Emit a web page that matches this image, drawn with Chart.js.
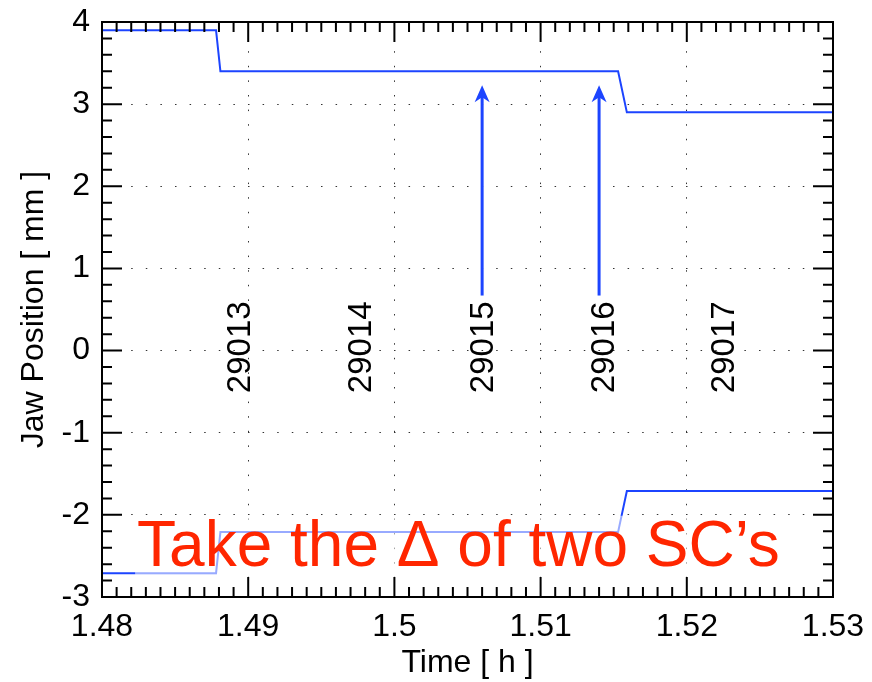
<!DOCTYPE html>
<html lang="en">
<head>
    <meta charset="UTF-8">
    <title>Jaw Position</title>
    <script src="https://cdn.jsdelivr.net/npm/chart.js@4.4.1/dist/chart.umd.min.js"></script>
    <style>
        body { margin: 0; background: #fff; }
        #wrap { width: 872px; height: 682px; }
    </style>
</head>
<body>
    <div id="wrap">
        <canvas id="myChart"></canvas>
    </div>
<script>
    // jaw settings vs time
    const stepTime = [1.48, 1.4878, 1.4881, 1.5153, 1.5159, 1.53];
    const upperJaw = [3.9, 3.9, 3.4, 3.4, 2.9, 2.9];
    const lowerJaw = [-2.71, -2.71, -2.21, -2.21, -1.71, -1.71];

    // fill numbers
    const runNames = ['29013', '29014', '29015', '29016', '29017'];
    const runTime = [1.4895, 1.4978, 1.5061, 1.5144, 1.5226];
    const runLabelPos = 0.04;

    // arrows marking the two SCs
    const arrowTime = [1.5060, 1.5140];
    const arrowFrom = [0.67, 0.67];
    const arrowTo = [3.23, 3.23];

    const xTickLabels = ['1.48', '1.49', '1.5', '1.51', '1.52', '1.53'];
    const yTickLabels = ['-3', '-2', '-1', '0', '1', '2', '3', '4'];

    const note = 'Take the \u0394 of two SC\u2019s';
    const noteAt = [1.4824, -2.62];

    const FONT = 'Helvetica, "Liberation Sans", Arial, sans-serif';
    const BLUE = 'rgb(28, 68, 255)';

    function pts(xs, ys) {
        return xs.map((t, i) => ({x: t, y: ys[i]}));
    }

    const extras = {
        id: 'extras',
        afterDatasetsDraw(chart) {
            const {ctx, chartArea: a, scales: {x, y}} = chart;
            ctx.save();

            // arrows
            ctx.strokeStyle = BLUE;
            ctx.fillStyle = BLUE;
            ctx.lineWidth = 3;
            arrowTime.forEach((t, i) => {
                const px = x.getPixelForValue(t);
                const y0 = y.getPixelForValue(arrowFrom[i]);
                const y1 = y.getPixelForValue(arrowTo[i]);
                ctx.beginPath();
                ctx.moveTo(px, y0);
                ctx.lineTo(px, y1 + 10);
                ctx.stroke();
                ctx.beginPath();
                ctx.moveTo(px, y1);
                ctx.lineTo(px - 7.5, y1 + 17);
                ctx.lineTo(px, y1 + 12);
                ctx.lineTo(px + 7.5, y1 + 17);
                ctx.closePath();
                ctx.fill();
            });

            // fill numbers, rotated
            ctx.fillStyle = '#000';
            ctx.font = '33px ' + FONT;
            ctx.textAlign = 'center';
            ctx.textBaseline = 'middle';
            runNames.forEach((name, i) => {
                ctx.save();
                ctx.translate(x.getPixelForValue(runTime[i]), y.getPixelForValue(runLabelPos));
                ctx.rotate(-Math.PI / 2);
                ctx.fillText(name, 0, 0);
                ctx.restore();
            });

            // note with a faded backdrop
            ctx.font = '64px ' + FONT;
            ctx.textAlign = 'left';
            ctx.textBaseline = 'alphabetic';
            const nx = x.getPixelForValue(noteAt[0]);
            const ny = y.getPixelForValue(noteAt[1]);
            const w = ctx.measureText(note).width;
            ctx.fillStyle = 'rgba(255, 255, 255, 0.55)';
            ctx.fillRect(nx - 2, ny - 50, w + 6, 59);
            ctx.fillStyle = 'rgb(255, 38, 0)';
            ctx.fillText(note, nx, ny);

            // frame and inward ticks
            ctx.strokeStyle = '#000';
            ctx.lineWidth = 2;
            ctx.strokeRect(a.left, a.top, a.right - a.left, a.bottom - a.top);
            ctx.beginPath();
            for (let i = 0; i <= 50; i++) {
                const px = x.getPixelForValue(1.48 + i * 0.001);
                const len = i % 10 === 0 ? 20 : 10;
                ctx.moveTo(px, a.top);
                ctx.lineTo(px, a.top + len);
                ctx.moveTo(px, a.bottom);
                ctx.lineTo(px, a.bottom - len);
            }
            for (let i = 0; i <= 35; i++) {
                const py = y.getPixelForValue(-3 + i * 0.2);
                const len = i % 5 === 0 ? 20 : 10;
                ctx.moveTo(a.left, py);
                ctx.lineTo(a.left + len, py);
                ctx.moveTo(a.right, py);
                ctx.lineTo(a.right - len, py);
            }
            ctx.stroke();
            ctx.restore();
        }
    };

    const data = {
        datasets: [{
            label: 'upper jaw',
            data: pts(stepTime, upperJaw),
            borderColor: BLUE,
            borderWidth: 2,
            pointRadius: 0,
            tension: 0
        }, {
            label: 'lower jaw',
            data: pts(stepTime, lowerJaw),
            borderColor: BLUE,
            borderWidth: 2,
            pointRadius: 0,
            tension: 0
        }]
    };

    const grid = {
        color: '#333',
        lineWidth: 1,
        drawTicks: false
    };

    const config = {
        type: 'line',
        data,
        options: {
            responsive: true,
            maintainAspectRatio: false,
            animation: false,
            layout: { padding: { top: 22, right: 39, left: 0, bottom: 0 } },
            plugins: { legend: { display: false }, tooltip: { enabled: false } },
            scales: {
                x: {
                    type: 'linear',
                    min: 1.48,
                    max: 1.53,
                    grid,
                    border: { display: false, dash: [1.5, 13.1] },
                    ticks: {
                        stepSize: 0.01,
                        autoSkip: false,
                        maxRotation: 0,
                        padding: 11,
                        color: '#000',
                        font: { family: FONT, size: 32 },
                        callback: (v, i) => xTickLabels[i]
                    },
                    title: {
                        display: true,
                        text: 'Time [ h ]',
                        color: '#000',
                        font: { family: FONT, size: 32 },
                        padding: { top: 0, bottom: 0 }
                    },
                    afterFit: (s) => {
                        s.height = 85;
                        s.paddingLeft = 0;
                        s.paddingRight = 0;
                    }
                },
                y: {
                    min: -3,
                    max: 4,
                    grid,
                    border: { display: false, dash: [1.5, 13.1] },
                    ticks: {
                        stepSize: 1,
                        autoSkip: false,
                        padding: 12,
                        color: '#000',
                        font: { family: FONT, size: 32 },
                        callback: (v, i) => yTickLabels[i]
                    },
                    title: {
                        display: true,
                        text: 'Jaw Position [ mm ]',
                        color: '#000',
                        font: { family: FONT, size: 32 },
                        padding: { top: 15, bottom: 0 }
                    },
                    afterFit: (s) => {
                        s.width = 102;
                        s.paddingTop = 0;
                        s.paddingBottom = 0;
                    }
                }
            }
        },
        plugins: [extras]
    };

    var myChart = new Chart(document.getElementById('myChart'), config);
</script>
</body>
</html>
